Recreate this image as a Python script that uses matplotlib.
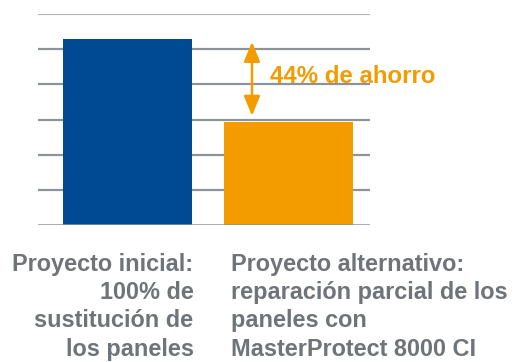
import matplotlib
matplotlib.use("Agg")
import matplotlib.pyplot as plt
import matplotlib.transforms as mtransforms

# ── Data ────────────────────────────────────────────────────────────────────────
projects = ["Proyecto inicial:\n100% de\nsustitución de\nlos paneles",
            "Proyecto alternativo:\nreparación parcial de los\npaneles con\nMasterProtect 8000 CI"]
costs = [5.29, 2.93]
saving_label = "44% de ahorro"
grid_levels = [1, 2, 3, 4, 5, 6]

# ── Style ───────────────────────────────────────────────────────────────────────
BLUE = "#004a93"
ORANGE = "#f39c00"
GRID = "#8e9398"
TEXT_GRAY = "#6f7479"
plt.rcParams["font.family"] = ["Liberation Sans", "DejaVu Sans"]

fig = plt.figure(figsize=(5.17, 3.62), dpi=100)
ax = fig.add_axes([38 / 517, 1 - 225.3 / 362, 332 / 517, (225.3 - 14) / 362])

x = [0, 1]
ax.bar(x, costs, width=0.80, color=[BLUE, ORANGE], zorder=3)

for y in grid_levels:
    ax.axhline(y, color="#b4b7ba" if y == grid_levels[-1] else GRID,
               linewidth=1.6, zorder=1)
ax.axhline(0, color=GRID, linewidth=1.8, zorder=4)

ax.set_xlim(-0.556, 1.506)
ax.set_ylim(0, 6)
ax.axis("off")

# double arrow showing the saving between both projects
arrow_x = 0.773
ax.annotate("", xy=(arrow_x, costs[1]), xytext=(arrow_x, costs[0]),
            arrowprops=dict(arrowstyle="<|-|>,head_length=12,head_width=4.9",
                            mutation_scale=1, color=ORANGE, linewidth=1.8,
                            shrinkA=2.0, shrinkB=4.5))
ax.text(arrow_x + 0.11, (costs[0] + costs[1]) / 2 + 0.11, saving_label,
        color=ORANGE, fontsize=17.3, fontweight="bold", va="center", ha="left")

# category labels under the bars
trans = mtransforms.blended_transform_factory(ax.transData, fig.transFigure)
ax.text(0.41, 1 - 253 / 362, projects[0], transform=trans, ha="right", va="top",
        fontsize=16.9, fontweight="bold", color=TEXT_GRAY, linespacing=1.29)
ax.text(0.645, 1 - 253 / 362, projects[1], transform=trans, ha="left", va="top",
        fontsize=16.9, fontweight="bold", color=TEXT_GRAY, linespacing=1.29)

fig.savefig("out.png", dpi=100)
